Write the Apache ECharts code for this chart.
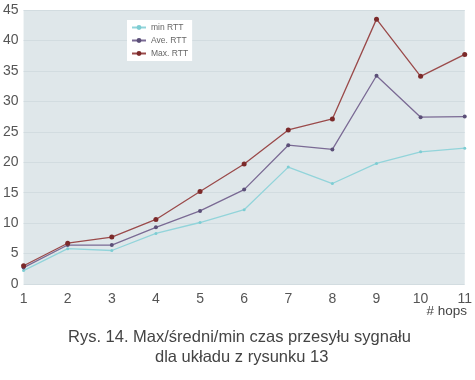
<!DOCTYPE html>
<html><head><meta charset="utf-8">
<script src="https://cdn.jsdelivr.net/npm/echarts@6/dist/echarts.min.js"></script>
<style>html,body{margin:0;padding:0;background:#fff}#c{width:475px;height:380px}</style>
</head><body><div id="c"></div>
<script>
const hops = ['1','2','3','4','5','6','7','8','9','10','11'];
const minRTT = [2.2, 5.8, 5.5, 8.3, 10.1, 12.2, 19.2, 16.5, 19.8, 21.7, 22.3];
const aveRTT = [2.7, 6.4, 6.4, 9.3, 12.0, 15.5, 22.8, 22.1, 34.2, 27.4, 27.5];
const maxRTT = [3.0, 6.7, 7.7, 10.6, 15.2, 19.7, 25.3, 27.1, 43.5, 34.1, 37.7];
const yTicks = [0, 5, 10, 15, 20, 25, 30, 35, 40, 45];

const font = '"Liberation Sans", Arial, sans-serif';
const chart = echarts.init(document.getElementById('c'));
function ser(name, data, color, lineColor, size) {
  return {name, type:'line', data, symbol:'circle', symbolSize:size,
    itemStyle:{color}, lineStyle:{color:lineColor, width:1.3}, animation:false};
}
chart.setOption({
  animation:false,
  backgroundColor:'#fff',
  grid:{left:23, right:7, top:10, bottom:96, show:true, backgroundColor:'#dfe7ea', borderWidth:0},
  legend:{orient:'vertical', left:127, top:20, width:60, itemWidth:14, itemHeight:6, itemGap:4,
    backgroundColor:'#fff', padding:[3,4,3,4],
    textStyle:{fontSize:8.5, color:'#666', fontFamily:font},
    data:['min RTT','Ave. RTT','Max. RTT']},
  xAxis:{type:'category', data:hops, boundaryGap:false,
    axisLine:{show:false}, axisTick:{show:false}, splitLine:{show:false},
    axisLabel:{fontSize:14, color:'#555', margin:8, fontFamily:font}},
  yAxis:{type:'value', min:yTicks[0], max:yTicks[yTicks.length-1], interval:5,
    axisLine:{show:false}, axisTick:{show:false},
    splitLine:{lineStyle:{color:'#d2dce0', width:1}},
    axisLabel:{fontSize:14, color:'#555', margin:5, fontFamily:font}},
  series:[
    ser('min RTT', minRTT, '#7dcdd3', '#92d4da', 3),
    ser('Ave. RTT', aveRTT, '#5b4f78', '#7a6a94', 4),
    ser('Max. RTT', maxRTT, '#7c2a2a', '#9a4a4a', 5)
  ],
  graphic:[
    {type:'text', right:8, top:304, style:{text:'# hops', fontSize:13.5, fill:'#444', fontFamily:font}},
    {type:'text', left:68, top:329, style:{text:'Rys. 14. Max/średni/min czas przesyłu sygnału', fontSize:16.5, fill:'#444', fontFamily:font}},
    {type:'text', left:155, top:349, style:{text:'dla układu z rysunku 13', fontSize:16.5, fill:'#444', fontFamily:font}}
  ]
});
</script></body></html>
